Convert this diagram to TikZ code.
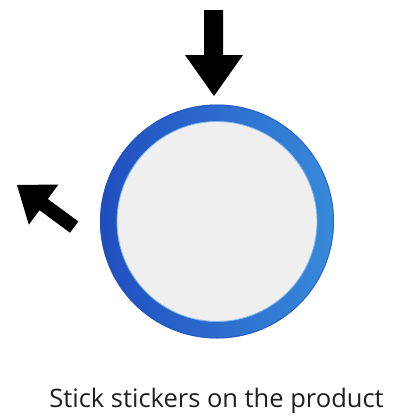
\documentclass[tikz,border=0pt]{standalone}
\usepackage{fontspec}
\setmainfont{Open Sans}
\begin{document}
\begin{tikzpicture}[x=1pt,y=-1pt,
  arrowfill/.style={fill=black,draw=none},
  caption/.style={anchor=base,inner sep=0pt,text=black!88,font=\fontsize{25.5}{30}\selectfont}]
\useasboundingbox (0,0) rectangle (403,416);
\fill[white] (0,0) rectangle (403,416);
% ring
\coordinate (c) at (217,221.5);
\shade[left color={rgb,255:red,32;green,78;blue,192}, right color={rgb,255:red,56;green,138;blue,218}, even odd rule]
  (c) circle[radius=117] (c) circle[radius=100];
\draw[draw={rgb,255:red,35;green,80;blue,190},line width=1pt,opacity=0.6] (c) circle[radius=116.5];
\node[circle,minimum size=200pt,inner sep=0pt,fill={rgb,255:red,239;green,239;blue,240},draw={rgb,255:red,120;green,180;blue,235},line width=0.8pt] (face) at (c) {};
% down arrow
\fill[arrowfill] (204,10) -- (223,10) -- (223,55) -- (243,55) -- (214,96) -- (185,55) -- (204,55) -- cycle;
% diagonal arrow
\fill[arrowfill] (17,185) -- (58.4,184.5) -- (47.8,199) -- (78.4,221.5) -- (70,232.7) -- (39.5,210.2) -- (28.8,224.7) -- cycle;
% caption
\node[caption] (label) at (216.5,407) {Stick stickers on the product};
\end{tikzpicture}
\end{document}
